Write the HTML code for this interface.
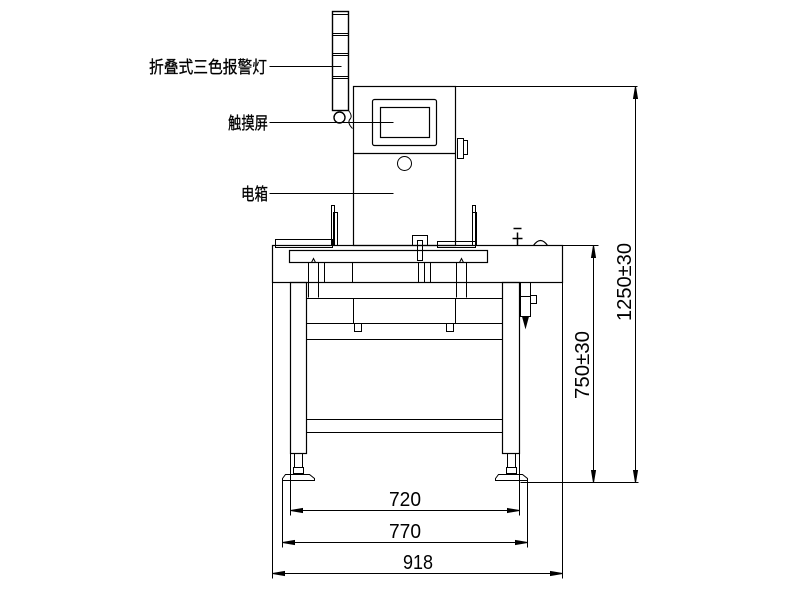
<!DOCTYPE html>
<html><head><meta charset="utf-8"><style>html,body{margin:0;padding:0;background:#fff}svg{display:block}</style></head>
<body>
<svg width="800" height="600" viewBox="0 0 800 600" xmlns="http://www.w3.org/2000/svg" fill="none" stroke="#000" stroke-width="1">
<g font-family="'Liberation Sans','Noto Sans CJK SC',sans-serif" font-size="17" fill="#000" stroke="#000" stroke-width="0.3">
<text x="149" y="73" textLength="118" lengthAdjust="spacingAndGlyphs">折叠式三色报警灯</text>
<text x="228" y="129" textLength="40" lengthAdjust="spacingAndGlyphs">触摸屏</text>
<text x="241" y="200" textLength="27" lengthAdjust="spacingAndGlyphs">电箱</text>
</g>
<g transform="translate(0.5,0.5)">
<line x1="269" y1="66" x2="341" y2="66"/>
<line x1="269" y1="122" x2="393" y2="122"/>
<line x1="269" y1="193" x2="393" y2="193"/>
<rect x="332" y="11" width="16" height="99" stroke-width="1.4"/>
<line x1="332" y1="14" x2="348" y2="14"/>
<line x1="332" y1="33" x2="348" y2="33"/><line x1="332" y1="35" x2="348" y2="35"/>
<line x1="332" y1="53" x2="348" y2="53"/><line x1="332" y1="55" x2="348" y2="55"/>
<line x1="332" y1="76" x2="348" y2="76"/><line x1="332" y1="78" x2="348" y2="78"/>
<circle cx="339" cy="117" r="5.5" stroke-width="1.4"/>
<path d="M348 110 Q352 115 350 118 Q346 122 352 128"/>
<rect x="353" y="86" width="102" height="159" stroke-width="1.2"/>
<line x1="455" y1="86" x2="637" y2="86"/>
<line x1="353" y1="153" x2="455" y2="153" stroke-width="1.2"/>
<rect x="372" y="99" width="64" height="46" rx="2" stroke-width="1.2"/>
<rect x="380" y="107" width="49" height="30" stroke-width="1.2"/>
<circle cx="404" cy="163" r="7"/>
<rect x="457" y="138" width="6" height="20"/><rect x="463" y="140" width="4" height="14"/>
<rect x="331" y="205" width="3" height="40"/><rect x="333" y="212" width="4" height="33"/>
<rect x="472" y="205" width="3" height="40"/><rect x="472" y="212" width="4" height="33"/>
<rect x="272" y="245" width="290" height="37" stroke-width="1.2"/>
<rect x="289" y="250" width="198" height="12" stroke-width="1.2"/>
<rect x="275" y="239" width="57" height="8"/>
<rect x="412" y="235" width="15" height="10"/><rect x="417" y="240" width="5" height="20"/>
<rect x="437" y="241" width="38" height="6"/>
<path d="M352 262 L352 282 L430 282 L430 262"/>
<path d="M308 262 L308 297 M318 262 L318 297 M311 262 l2 -4 l2 4"/>
<path d="M456 262 L456 297 M466 262 L466 297 M459 262 l2 -4 l2 4"/>
<rect x="318" y="262" width="6" height="20"/><rect x="418" y="262" width="6" height="20"/>
<path d="M512 238 L522 238 M517 232 L517 245 M513 228 L521 228" stroke-width="1.5"/>
<path d="M533 245 Q540 235 547 245" stroke-width="1.2"/>
<rect x="520" y="282" width="10" height="14"/><rect x="520" y="296" width="10" height="20"/><rect x="530" y="295" width="6" height="8"/>
<path d="M522 316 L528 316 L525 327 Z" fill="#000"/>
<rect x="290" y="282" width="16" height="171" stroke-width="1.2"/>
<rect x="502" y="282" width="17" height="171" stroke-width="1.2"/>
<line x1="306" y1="298" x2="502" y2="298"/>
<line x1="306" y1="323" x2="502" y2="323"/>
<line x1="306" y1="339" x2="502" y2="339"/>
<line x1="306" y1="419" x2="502" y2="419"/>
<line x1="306" y1="432" x2="502" y2="432"/>
<line x1="353" y1="298" x2="353" y2="323"/><line x1="455" y1="298" x2="455" y2="323"/>
<rect x="354" y="323" width="7" height="8"/><rect x="446" y="323" width="7" height="8"/>
<rect x="294" y="453" width="8" height="14"/><rect x="293" y="467" width="10" height="6"/>
<path d="M285 474 L309 474 L314 478 L314 480 L282 480 L282 478 Z"/>
<rect x="507" y="453" width="8" height="14"/><rect x="506" y="467" width="10" height="6"/>
<path d="M498 474 L522 474 L527 478 L527 480 L495 480 L495 478 Z"/>
<line x1="272" y1="282" x2="272" y2="578"/>
<line x1="562" y1="282" x2="562" y2="578"/>
<line x1="282" y1="480" x2="282" y2="547"/>
<line x1="527" y1="480" x2="527" y2="547"/>
<line x1="290" y1="453" x2="290" y2="515"/>
<line x1="519" y1="453" x2="519" y2="515"/>
<line x1="562" y1="245" x2="598" y2="245"/>
<line x1="520" y1="482" x2="638" y2="482"/>
<g fill="#000">
<line x1="290" y1="510" x2="519" y2="510"/>
<path d="M290 510 l12 -2 v4 z M519 510 l-12 -2 v4 z"/>
<line x1="282" y1="542" x2="527" y2="542"/>
<path d="M282 542 l12 -2 v4 z M527 542 l-12 -2 v4 z"/>
<line x1="272" y1="573" x2="562" y2="573"/>
<path d="M272 573 l12 -2 v4 z M562 573 l-12 -2 v4 z"/>
<line x1="635" y1="86" x2="635" y2="482"/>
<path d="M635 86 l-2 12 h4 z M635 482 l-2 -12 h4 z"/>
<line x1="593" y1="245" x2="593" y2="482"/>
<path d="M593 245 l-2 12 h4 z M593 482 l-2 -12 h4 z"/>
</g>
</g>
<g font-family="'Liberation Sans',sans-serif" font-size="20" fill="#000" stroke="none" text-anchor="middle">
<text x="405" y="506" textLength="32" lengthAdjust="spacingAndGlyphs">720</text>
<text x="405" y="538" textLength="32" lengthAdjust="spacingAndGlyphs">770</text>
<text x="418" y="569" textLength="30" lengthAdjust="spacingAndGlyphs">918</text>
<text transform="translate(631,282) rotate(-90)" textLength="78" lengthAdjust="spacingAndGlyphs">1250±30</text>
<text transform="translate(589,365) rotate(-90)" textLength="68" lengthAdjust="spacingAndGlyphs">750±30</text>
</g>
</svg>
</body></html>
